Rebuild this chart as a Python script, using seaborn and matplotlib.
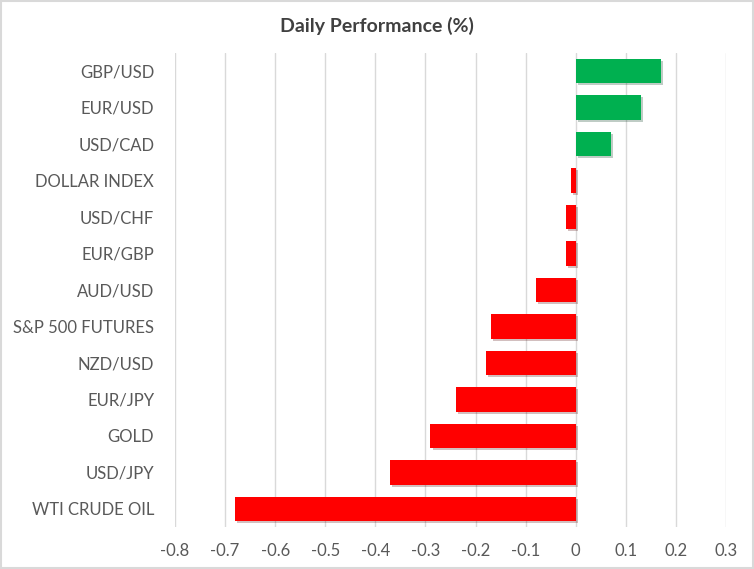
import pandas as pd
import matplotlib.pyplot as plt
import matplotlib.patheffects as pe
import seaborn as sns

pairs = ["GBP/USD", "EUR/USD", "USD/CAD", "DOLLAR INDEX", "USD/CHF", "EUR/GBP",
         "AUD/USD", "S&P 500 FUTURES", "NZD/USD", "EUR/JPY", "GOLD", "USD/JPY",
         "WTI CRUDE OIL"]
change = [0.17, 0.13, 0.07, -0.01, -0.02, -0.02, -0.08, -0.17, -0.18, -0.24,
          -0.29, -0.37, -0.68]

df = pd.DataFrame({"pair": pairs, "change": change})
df["dir"] = ["up" if v > 0 else "down" for v in df["change"]]

sns.set_style("white")
plt.rcParams["font.family"] = ["Lato", "DejaVu Sans"]

fig = plt.figure(figsize=(7.54, 5.69), dpi=100)
ax = fig.add_axes([0.2321, 0.0734, 0.7308, 0.8339])

sns.barplot(data=df, x="change", y="pair", hue="dir",
            palette={"up": "#00b050", "down": "#ff0000"},
            orient="h", width=0.67, dodge=False, legend=False, ax=ax,
            saturation=1, linewidth=0)

for p in ax.patches:
    p.set_path_effects([pe.SimplePatchShadow(offset=(1.5, -1.5), alpha=0.25),
                        pe.Normal()])

ax.set_xlim(-0.8, 0.3)
ax.set_xticks([-0.8, -0.7, -0.6, -0.5, -0.4, -0.3, -0.2, -0.1, 0, 0.1, 0.2, 0.3])
ax.set_xticklabels(["-0.8", "-0.7", "-0.6", "-0.5", "-0.4", "-0.3", "-0.2",
                    "-0.1", "0", "0.1", "0.2", "0.3"])
ax.xaxis.grid(True, color="#d9d9d9", linewidth=1)
ax.set_axisbelow(True)
ax.tick_params(axis="both", length=0, labelsize=12, colors="#595959")
ax.tick_params(axis="y", pad=15)
ax.tick_params(axis="x", pad=11)
ax.set_xlabel("")
ax.set_ylabel("")
for s in ax.spines.values():
    s.set_visible(False)

fig.text(0.5, 0.955, "Daily Performance (%)", ha="center", va="center",
         fontsize=14, fontweight="bold", color="#404040")

fig.patches.append(plt.Rectangle((0.001, 0.001), 0.998, 0.997,
                                 transform=fig.transFigure, fill=False,
                                 edgecolor="#d9d9d9", linewidth=1.5))

fig.savefig("out.png", dpi=100)
